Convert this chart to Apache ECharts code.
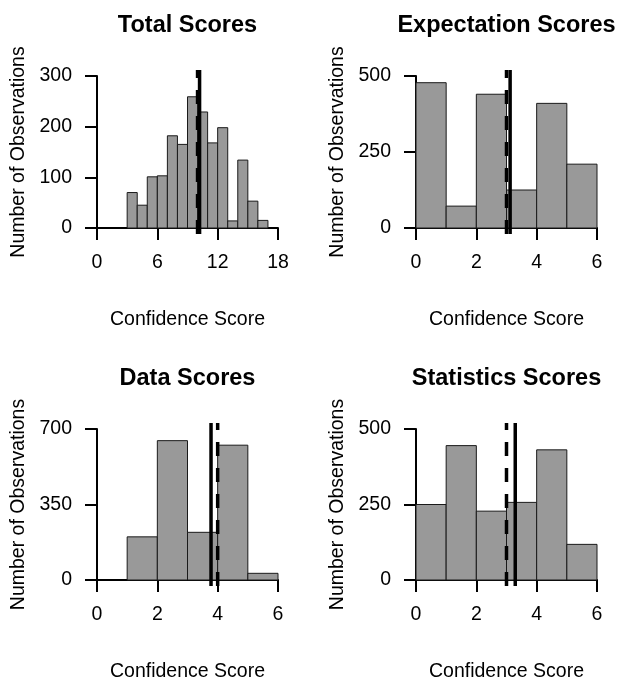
<!DOCTYPE html>
<html>
<head>
<meta charset="utf-8">
<script src="https://cdn.jsdelivr.net/npm/echarts@6/dist/echarts.min.js"></script>
<style>
html,body{margin:0;padding:0;background:#fff;}
#chart{width:618px;height:683px;}
</style>
</head>
<body>
<div id="chart"></div>
<script>
// ---- data ----
const panelTitles = ['Total Scores', 'Expectation Scores', 'Data Scores', 'Statistics Scores'];
const xAxisTitle = 'Confidence Score';
const yAxisTitle = 'Number of Observations';

const totalBinEdges = [3, 4, 5, 6, 7, 8, 9, 10, 11, 12, 13, 14, 15, 16, 17];
const totalCounts = [70, 45, 101, 103, 182, 165, 259, 229, 168, 198, 14, 134, 53, 15];
const expBinEdges = [0, 1, 2, 3, 4, 5, 6];
const expCounts = [478, 72, 440, 125, 410, 210];
const dataBinEdges = [1, 2, 3, 4, 5, 6];
const dataCounts = [200, 646, 221, 625, 31];
const statBinEdges = [0, 1, 2, 3, 4, 5, 6];
const statCounts = [250, 445, 228, 257, 431, 118];

const means = [10.2, 3.12, 3.78, 3.29];    // solid lines
const medians = [10, 3, 4, 3];             // dashed lines

const xTicks = [[0, 6, 12, 18], [0, 2, 4, 6], [0, 2, 4, 6], [0, 2, 4, 6]];
const yTicks = [[0, 100, 200, 300], [0, 250, 500], [0, 350, 700], [0, 250, 500]];

const binEdges = [totalBinEdges, expBinEdges, dataBinEdges, statBinEdges];
const binCounts = [totalCounts, expCounts, dataCounts, statCounts];

// ---- layout ----
const FONT = 'Liberation Sans, Arial, Helvetica, sans-serif';
const grids = [
  {left: 97, top: 76, width: 181, height: 152},
  {left: 416, top: 76, width: 181, height: 152},
  {left: 97, top: 429, width: 181, height: 152},
  {left: 416, top: 429, width: 181, height: 152}
];

const chart = echarts.init(document.getElementById('chart'), null, {renderer: 'canvas'});

const titles = [], xAxes = [], yAxes = [], series = [];
grids.forEach((g, i) => {
  titles.push({
    text: panelTitles[i], left: g.left + g.width / 2, top: g.top - 62, textAlign: 'center', padding: 0,
    textStyle: {fontFamily: FONT, fontSize: 23.5, fontWeight: 'bold', color: '#000'}
  });
  const xt = xTicks[i], yt = yTicks[i];
  const axisCommon = {
    axisLine: {show: true, lineStyle: {color: '#000', width: 2}},
    axisTick: {show: true, length: 12, inside: false, lineStyle: {color: '#000', width: 2}},
    splitLine: {show: false},
    axisLabel: {color: '#000', fontFamily: FONT, fontSize: 19.5, margin: 25},
    nameTextStyle: {color: '#000', fontFamily: FONT, fontSize: 19.5}
  };
  xAxes.push(Object.assign({
    type: 'value', gridIndex: i, min: xt[0], max: xt[xt.length - 1], interval: xt[1] - xt[0],
    name: xAxisTitle, nameLocation: 'middle', nameGap: 82
  }, axisCommon));
  yAxes.push(Object.assign({
    type: 'value', gridIndex: i, min: yt[0], max: yt[yt.length - 1], interval: yt[1] - yt[0],
    name: yAxisTitle, nameLocation: 'middle', nameGap: 68, nameRotate: 90
  }, axisCommon));

  const edges = binEdges[i], counts = binCounts[i];
  const rects = counts.map((c, k) => [edges[k], edges[k + 1], c]);
  series.push({
    type: 'custom', xAxisIndex: i, yAxisIndex: i, data: rects, clip: false,
    renderItem: function (params, api) {
      const p0 = api.coord([api.value(0), 0]);
      const p1 = api.coord([api.value(1), api.value(2)]);
      return {
        type: 'rect',
        shape: {x: p0[0], y: p1[1], width: p1[0] - p0[0], height: p0[1] - p1[1]},
        style: {fill: '#999999', stroke: '#1a1a1a', lineWidth: 1}
      };
    },
    silent: true
  });
  const ymax = yt[yt.length - 1];
  const lo = -0.04 * ymax, hi = 1.04 * ymax;
  series.push({
    type: 'line', xAxisIndex: i, yAxisIndex: i, clip: false, symbol: 'none', silent: true,
    data: [[medians[i], lo], [medians[i], hi]],
    lineStyle: {color: '#000', width: 3.5, type: [14, 12]}, z: 3
  });
  series.push({
    type: 'line', xAxisIndex: i, yAxisIndex: i, clip: false, symbol: 'none', silent: true,
    data: [[means[i], lo], [means[i], hi]],
    lineStyle: {color: '#000', width: 3.5, type: 'solid'}, z: 4
  });
});

chart.setOption({
  animation: false,
  backgroundColor: '#fff',
  title: titles,
  grid: grids,
  xAxis: xAxes,
  yAxis: yAxes,
  series: series
});
</script>
</body>
</html>
